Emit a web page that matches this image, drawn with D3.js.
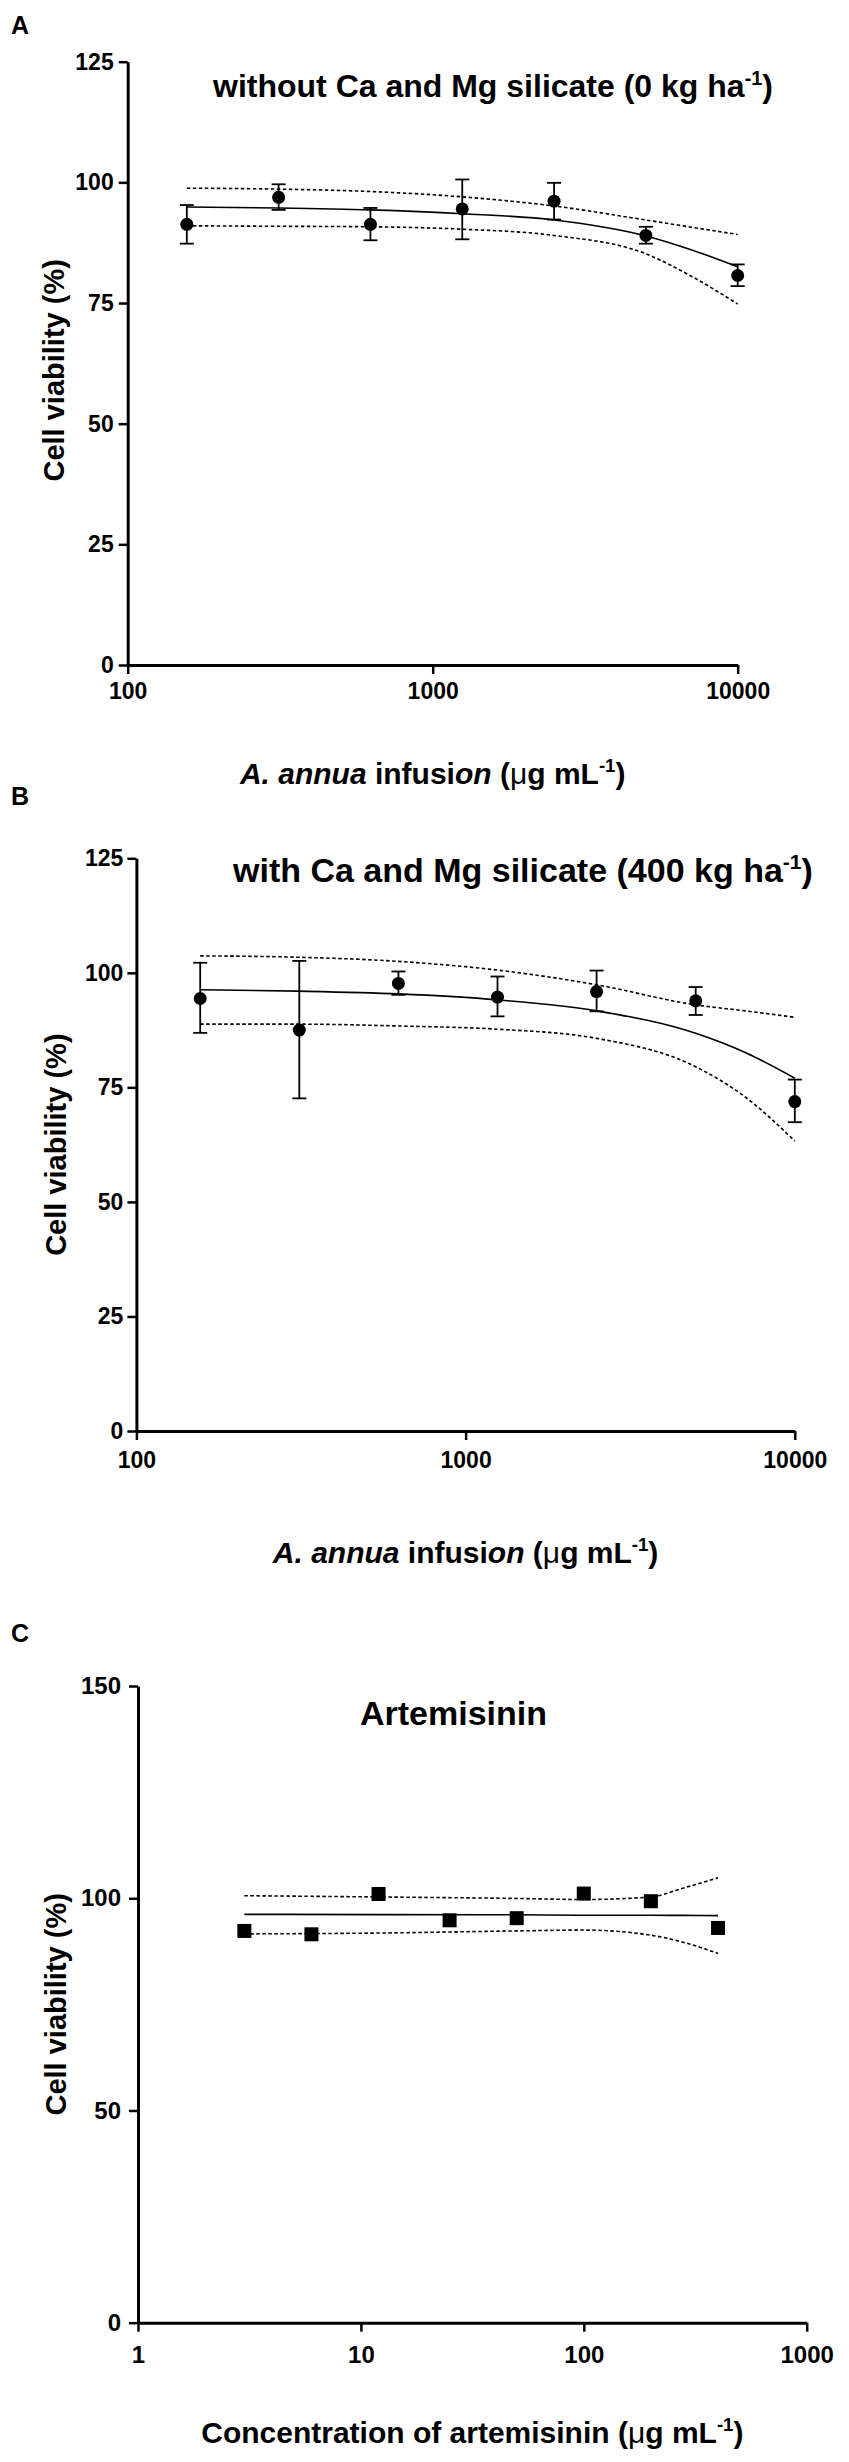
<!DOCTYPE html>
<html>
<head>
<meta charset="utf-8">
<script src="https://cdn.jsdelivr.net/npm/d3@7"></script>
<style>
  body { margin: 0; background: #fff; }
  svg { display: block; }
  text { font-family: "Liberation Sans", Arial, sans-serif; font-weight: bold; fill: #000; }
</style>
</head>
<body>
<div id="plot"></div>
<script>
// ---- data ----
// A / B : A. annua infusion, two-fold dilutions
var doseAB = [156.25, 312.5, 625, 1250, 2500, 5000, 10000];
var meanA = [91.3, 96.9, 91.3, 94.5, 96.1, 89.0, 80.7];
var errHiA = [95.3, 99.6, 94.7, 100.6, 99.9, 90.8, 83.0];
var errLoA = [87.3, 94.3, 88.0, 88.2, 92.3, 87.3, 78.5];

var meanB = [94.4, 87.5, 97.7, 94.7, 95.9, 93.9, 71.9];
var errHiB = [102.2, 102.6, 100.3, 99.2, 100.5, 96.9, 76.7];
var errLoB = [86.9, 72.6, 95.2, 90.5, 91.6, 90.8, 67.4];

// fitted curve + 95% band, read at these doses
var curveDoseAB = [156.25, 312.5, 625, 1250, 2500, 5000, 7071, 10000];
var fitA = [94.9, 94.7, 94.3, 93.5, 92.2, 88.9, 86.0, 82.5];
var bandHiA = [98.8, 98.6, 98.1, 97.0, 95.1, 92.2, 90.7, 89.2];
var bandLoA = [91.0, 90.9, 90.8, 90.3, 89.0, 85.2, 80.5, 74.8];

var fitB = [96.3, 96.0, 95.4, 94.1, 91.7, 86.8, 82.6, 77.0];
var bandHiB = [103.7, 103.4, 102.5, 100.6, 97.4, 93.0, 91.7, 90.3];
var bandLoB = [88.8, 88.8, 88.4, 87.7, 85.7, 79.5, 72.9, 63.3];

// C : artemisinin
var doseC = [3, 6, 12, 25, 50, 100, 200, 400];
var meanC = [92.3, 91.5, 101.0, 94.8, 95.3, 101.1, 99.3, 93.0];
var curveDoseC = [3, 12, 50, 100, 200, 276, 400];
var fitC = [96.2, 96.15, 96.1, 96.0, 96.0, 95.95, 95.9];
var bandHiC = [100.6, 100.3, 99.95, 99.7, 100.3, 102.3, 104.8];
var bandLoC = [91.6, 91.8, 92.3, 92.5, 91.3, 89.7, 87.0];

var ticksY_AB = [0, 25, 50, 75, 100, 125];
var ticksY_C = [0, 50, 100, 150];
var ticksX_AB = [100, 1000, 10000];
var ticksX_C = [1, 10, 100, 1000];

var W = 849, H = 2462;
var svg = d3.select("#plot").append("svg")
    .attr("width", W).attr("height", H);

function addSup(t, base, sup, tail) {
    t.append("tspan").text(base);
    t.append("tspan").attr("dy", "-0.62em").attr("font-size", "0.62em").text(sup);
    t.append("tspan").attr("dy", "0.38em").text(tail);
}

function drawPanel(p) {
    var x = d3.scaleLog().domain(p.xDomain).range(p.xRange);
    var y = d3.scaleLinear().domain(p.yDomain).range(p.yRange);
    var g = svg.append("g");

    // panel letter
    g.append("text").attr("x", p.letterPos[0]).attr("y", p.letterPos[1])
        .attr("font-size", 25).text(p.letter);

    // axes
    var yAxis = g.append("g")
        .attr("transform", "translate(" + p.xRange[0] + ",0)")
        .call(d3.axisLeft(y).tickValues(p.yTicks).tickSize(9).tickSizeOuter(0)
            .tickPadding(p.yPad).tickFormat(d3.format("d")));
    var xAxis = g.append("g")
        .attr("transform", "translate(0," + p.yRange[0] + ")")
        .call(d3.axisBottom(x).tickValues(p.xTicks).tickSize(9).tickSizeOuter(0)
            .tickPadding(p.xPad).tickFormat(d3.format("d")));
    [yAxis, xAxis].forEach(function(a) {
        a.select(".domain").attr("stroke", "#000").attr("stroke-width", 3);
        a.selectAll(".tick line").attr("stroke", "#000").attr("stroke-width", 2.5);
        a.selectAll(".tick text").attr("font-size", p.tickFont).attr("fill", "#000")
            .style("font-family", "'Liberation Sans', Arial, sans-serif").style("font-weight", "bold");
    });

    // titles
    var tt = g.append("text").attr("x", p.titlePos[0]).attr("y", p.titlePos[1])
        .attr("font-size", p.titleFont);
    if (p.titleSup) addSup(tt, p.title, "-1", ")"); else tt.text(p.title);

    g.append("text")
        .attr("transform", "translate(" + p.yTitleX + "," + ((p.yRange[0] + p.yRange[1]) / 2 + p.yTitleShift) + ") rotate(-90)")
        .attr("text-anchor", "middle").attr("font-size", 29)
        .text("Cell viability (%)");

    var xt = g.append("text")
        .attr("x", (p.xRange[0] + p.xRange[1]) / 2).attr("y", p.xTitleY)
        .attr("text-anchor", "middle").attr("font-size", 30);
    p.xTitle(xt);

    // fitted curve and confidence band
    var line = d3.line().curve(d3.curveMonotoneX)
        .x(function(d) { return x(d[0]); })
        .y(function(d) { return y(d[1]); });
    [p.bandHi, p.bandLo].forEach(function(band) {
        g.append("path").datum(d3.zip(p.curveDose, band))
            .attr("fill", "none").attr("stroke", "#000").attr("stroke-width", 1.6)
            .attr("stroke-dasharray", "3.5,2.5").attr("d", line);
    });
    g.append("path").datum(d3.zip(p.curveDose, p.fit))
        .attr("fill", "none").attr("stroke", "#000").attr("stroke-width", 1.6)
        .attr("d", line);

    // error bars
    if (p.errHi) {
        var eb = g.append("g").attr("stroke", "#000").attr("stroke-width", 1.8);
        p.dose.forEach(function(d, i) {
            var cx = x(d);
            eb.append("line").attr("x1", cx).attr("x2", cx)
                .attr("y1", y(p.errHi[i])).attr("y2", y(p.errLo[i]));
            [p.errHi[i], p.errLo[i]].forEach(function(v) {
                eb.append("line").attr("x1", cx - 7).attr("x2", cx + 7)
                    .attr("y1", y(v)).attr("y2", y(v));
            });
        });
    }

    // points
    if (p.marker === "circle") {
        g.selectAll(".pt").data(d3.zip(p.dose, p.mean)).enter()
            .append("circle")
            .attr("cx", function(d) { return x(d[0]); })
            .attr("cy", function(d) { return y(d[1]); })
            .attr("r", 6.5).attr("fill", "#000");
    } else {
        g.selectAll(".pt").data(d3.zip(p.dose, p.mean)).enter()
            .append("rect")
            .attr("x", function(d) { return x(d[0]) - 7; })
            .attr("y", function(d) { return y(d[1]) - 7; })
            .attr("width", 14).attr("height", 14).attr("fill", "#000");
    }
}

function annuaTitle(t) {
    t.append("tspan").attr("font-style", "italic").text("A. annua");
    t.append("tspan").text(" infusi");
    t.append("tspan").attr("font-style", "italic").text("o");
    t.append("tspan").attr("font-style", "italic").text("n");
    t.append("tspan").text(" (");
    t.append("tspan").attr("font-weight", "normal").text("μ");
    t.append("tspan").text("g mL");
    t.append("tspan").attr("dy", "-0.62em").attr("font-size", "0.62em").text("-1");
    t.append("tspan").attr("dy", "0.38em").text(")");
}

function artTitle(t) {
    t.append("tspan").text("Concentration of artemisinin (");
    t.append("tspan").attr("font-weight", "normal").text("μ");
    t.append("tspan").text("g mL");
    t.append("tspan").attr("dy", "-0.62em").attr("font-size", "0.62em").text("-1");
    t.append("tspan").attr("dy", "0.38em").text(")");
}

drawPanel({
    letter: "A", letterPos: [11, 34],
    xDomain: [100, 10000], xRange: [127.7, 737.7],
    yDomain: [0, 125], yRange: [665, 61.7],
    yTicks: ticksY_AB, xTicks: ticksX_AB, yPad: 5, xPad: 9, tickFont: 23,
    title: "without Ca and Mg silicate (0 kg ha", titleSup: true, titlePos: [213, 97], titleFont: 32,
    yTitleX: 64, yTitleShift: 7, xTitleY: 784, xTitle: annuaTitle,
    dose: doseAB, mean: meanA, errHi: errHiA, errLo: errLoA,
    curveDose: curveDoseAB, fit: fitA, bandHi: bandHiA, bandLo: bandLoA,
    marker: "circle"
});

drawPanel({
    letter: "B", letterPos: [11, 805],
    xDomain: [100, 10000], xRange: [136.4, 794.8],
    yDomain: [0, 125], yRange: [1431, 858.3],
    yTicks: ticksY_AB, xTicks: ticksX_AB, yPad: 4, xPad: 12, tickFont: 23,
    title: "with Ca and Mg silicate (400 kg ha", titleSup: true, titlePos: [233, 882], titleFont: 34,
    yTitleX: 66, yTitleShift: 0, xTitleY: 1563, xTitle: annuaTitle,
    dose: doseAB, mean: meanB, errHi: errHiB, errLo: errLoB,
    curveDose: curveDoseAB, fit: fitB, bandHi: bandHiB, bandLo: bandLoB,
    marker: "circle"
});

drawPanel({
    letter: "C", letterPos: [11, 1642],
    xDomain: [1, 1000], xRange: [138, 806.7],
    yDomain: [0, 150], yRange: [2322.7, 1686],
    yTicks: ticksY_C, xTicks: ticksX_C, yPad: 8, xPad: 14, tickFont: 24,
    title: "Artemisinin", titleSup: false, titlePos: [360, 1725], titleFont: 34,
    yTitleX: 66, yTitleShift: 0, xTitleY: 2443, xTitle: artTitle,
    dose: doseC, mean: meanC,
    curveDose: curveDoseC, fit: fitC, bandHi: bandHiC, bandLo: bandLoC,
    marker: "square"
});
</script>
</body>
</html>
